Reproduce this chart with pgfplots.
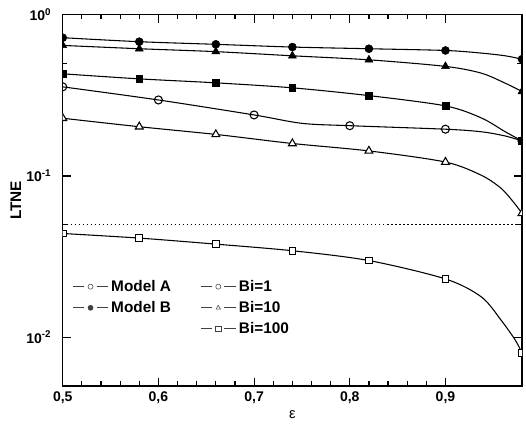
\documentclass[border=0pt]{standalone}
\usepackage{fontspec}
\setmainfont{Liberation Sans}
\setsansfont{Liberation Sans}
\usepackage{pgfplots}
\pgfplotsset{compat=1.18}

\begin{document}
\begin{tikzpicture}
\begin{axis}[
    name=main,
    width=344pt, height=278pt,
    scale only axis,
    ymode=log,
    xmin=0.5, xmax=0.98,
    ymin=0.005, ymax=1,
    xtick={0.5,0.6,0.7,0.8,0.9},
    xticklabels={{0,5},{0,6},{0,7},{0,8},{0,9}},
    minor x tick num=4,
    ytick={0.01,0.1,1},
    yticklabels={{10\textsuperscript{-2}},{10\textsuperscript{-1}},{10\textsuperscript{0}}},
    minor ytick={0.05,0.5},
    tick align=inside,
    major tick length=6pt,
    minor tick length=3.5pt,
    every tick/.style={black, line width=0.9pt},
    axis line style={line width=1.1pt},
    ticklabel style={font=\bfseries\fontsize{10.5}{12}\selectfont},
    yticklabel style={xshift=-5pt},
    xticklabel style={yshift=-1pt},
    xlabel={\fontsize{11}{12}\selectfont ε},
    ylabel={\bfseries\fontsize{11.5}{13}\selectfont LTNE},
    ylabel style={yshift=-3pt},
    xlabel style={yshift=2pt},
    clip=true,
    clip marker paths=true,
    legend columns=2,
    legend style={draw=none, fill=none, at={(rel axis cs:0.012,0.30)}, anchor=north west,
        font=\bfseries\fontsize{11.5}{13}\selectfont, row sep=2pt,
        /tikz/every even column/.append style={column sep=20pt}},
    legend cell align=left,
    legend image code/.code={
        \draw[#1, mark=none, line width=0.8pt] (0cm,0cm) -- (0.3cm,0cm);
        \draw[#1, mark=none, line width=0.8pt] (0.62cm,0cm) -- (0.92cm,0cm);
        \draw[#1, only marks, mark size=1.9pt] plot coordinates {(0.46cm,0cm)};
    },
]
% dotted reference line
\addplot[black, dotted, line width=1pt, forget plot] coordinates {(0.5,0.05) (0.98,0.05)};

% Model B, Bi=1
\addplot[black, line width=0.8pt, smooth, forget plot] coordinates {
(0.5,0.72) (0.58,0.68) (0.66,0.655) (0.74,0.63) (0.82,0.615) (0.9,0.60) (0.9375,0.578) (0.9625,0.556) (0.98,0.53)};
\addplot[black, only marks, mark=*, mark size=3pt, forget plot] coordinates {
(0.5,0.72) (0.58,0.68) (0.66,0.655) (0.74,0.63) (0.82,0.615) (0.9,0.60) (0.98,0.53)};

% Model B, Bi=10
\addplot[black, line width=0.8pt, smooth, forget plot] coordinates {
(0.5,0.645) (0.58,0.615) (0.66,0.59) (0.74,0.556) (0.82,0.525) (0.9,0.478) (0.9375,0.434) (0.9625,0.376) (0.98,0.334)};
\addplot[black, only marks, mark=triangle*, mark size=3.4pt, forget plot] coordinates {
(0.5,0.645) (0.58,0.615) (0.66,0.59) (0.74,0.556) (0.82,0.525) (0.9,0.478) (0.98,0.334)};

% Model B, Bi=100
\addplot[black, line width=0.8pt, smooth, forget plot] coordinates {
(0.5,0.43) (0.58,0.40) (0.66,0.378) (0.74,0.352) (0.82,0.315) (0.9,0.272) (0.9375,0.229) (0.9625,0.188) (0.98,0.165)};
\addplot[black, only marks, mark=square*, mark size=2.5pt, forget plot] coordinates {
(0.5,0.43) (0.58,0.40) (0.66,0.378) (0.74,0.352) (0.82,0.315) (0.9,0.272) (0.98,0.165)};

% Model A, Bi=1
\addplot[black, line width=0.8pt, smooth, forget plot] coordinates {
(0.5,0.357) (0.6,0.296) (0.7,0.239) (0.75,0.212) (0.8,0.205) (0.9,0.195) (0.9375,0.188) (0.9625,0.177) (0.98,0.165)};
\addplot[black, only marks, mark=o, mark size=3pt, mark options={fill=white, line width=0.8pt}, forget plot] coordinates {
(0.5,0.357) (0.6,0.296) (0.7,0.239) (0.8,0.205) (0.9,0.195) (0.98,0.165)};

% Model A, Bi=10
\addplot[black, line width=0.8pt, smooth, forget plot] coordinates {
(0.5,0.228) (0.58,0.202) (0.66,0.181) (0.74,0.159) (0.82,0.143) (0.9,0.122) (0.9375,0.101) (0.958,0.084) (0.971,0.069) (0.98,0.0587)};
\addplot[black, only marks, mark=triangle*, mark size=3.4pt, mark options={fill=white, line width=0.8pt}, forget plot] coordinates {
(0.5,0.228) (0.58,0.202) (0.66,0.181) (0.74,0.159) (0.82,0.143) (0.9,0.122) (0.98,0.0587)};

% Model A, Bi=100
\addplot[black, line width=0.8pt, smooth, forget plot] coordinates {
(0.5,0.044) (0.58,0.0412) (0.66,0.0378) (0.74,0.0344) (0.82,0.0299) (0.9,0.023) (0.9375,0.0178) (0.958,0.0128) (0.973,0.0096) (0.98,0.0080)};
\addplot[black, only marks, mark=square*, mark size=2.5pt, mark options={fill=white, line width=0.8pt}, forget plot] coordinates {
(0.5,0.044) (0.58,0.0412) (0.66,0.0378) (0.74,0.0344) (0.82,0.0299) (0.9,0.023) (0.98,0.0080)};

% legend
\addlegendimage{black!75, mark=o, mark options={fill=white}}
\addlegendentry{Model A}
\addlegendimage{black!75, mark=o, mark options={fill=white}}
\addlegendentry{Bi=1}
\addlegendimage{black!75, mark=*}
\addlegendentry{Model B}
\addlegendimage{black!75, mark=triangle*, mark options={fill=white}}
\addlegendentry{Bi=10}
\addlegendimage{empty legend}
\addlegendentry{}
\addlegendimage{black!75, mark=square*, mark options={fill=white}}
\addlegendentry{Bi=100}
\end{axis}
% page margins as in the reference
\path (main.south west) ++(-47pt,-31pt) (main.north east) ++(3pt,11pt);
\end{tikzpicture}
\end{document}
